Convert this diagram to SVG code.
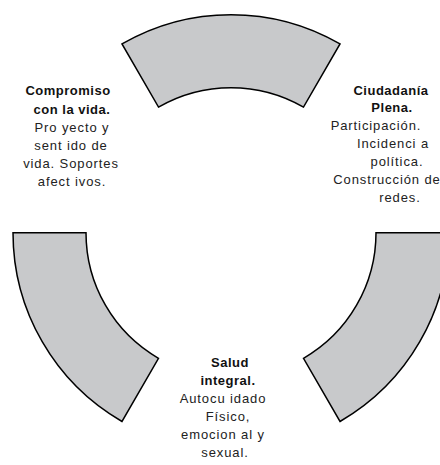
<svg xmlns="http://www.w3.org/2000/svg" width="440" height="465" viewBox="0 0 440 465">
<style>
.seg{fill:#c8c9cb;stroke:#000;stroke-width:1.5;stroke-linejoin:miter}
text{font-family:"Liberation Sans",Arial,sans-serif;font-size:13px;fill:#222;text-anchor:middle;letter-spacing:0.9px}
.b{font-weight:bold;letter-spacing:0.5px;fill:#111}
</style>
<rect width="440" height="465" fill="#fff"/>
<g id="seg-top"><path class="seg" d="M122,43.9 A218,218 0 0 1 340,43.9 L303.5,107.1 A145,145 0 0 0 158.5,107.1 Z"/></g>
<g id="seg-right"><path class="seg" d="M449,232.7 A218,218 0 0 1 340,421.5 L303.5,358.3 A145,145 0 0 0 376,232.7 Z"/></g>
<g id="seg-left"><path class="seg" d="M13,232.7 L86,232.7 A145,145 0 0 0 158.5,358.3 L122,421.5 A218,218 0 0 1 13,232.7 Z"/></g>
<g id="label-compromiso">
<text x="68" y="95" class="b">Compromiso</text>
<text x="72" y="114" class="b">con la  vida.</text>
<text x="72" y="132">Pro yecto  y</text>
<text x="71" y="150">sent ido  de</text>
<text x="71" y="168">vida. Soportes</text>
<text x="72" y="186">afect ivos.</text>
</g>
<g id="label-ciudadania">
<text x="391" y="95" class="b">Ciudadanía</text>
<text x="392" y="112" class="b">Plena.</text>
<text x="376" y="130">Participación.</text>
<text x="393" y="148">Incidenci a</text>
<text x="397" y="166">política.</text>
<text x="387" y="184">Construcción de</text>
<text x="400" y="202">redes.</text>
</g>
<g id="label-salud">
<text x="230" y="367" class="b">Salud</text>
<text x="228" y="385" class="b">integral.</text>
<text x="223" y="403">Autocu idado</text>
<text x="228" y="421">Físico,</text>
<text x="223" y="439">emocion al y</text>
<text x="225" y="457">sexual.</text>
</g>
</svg>
